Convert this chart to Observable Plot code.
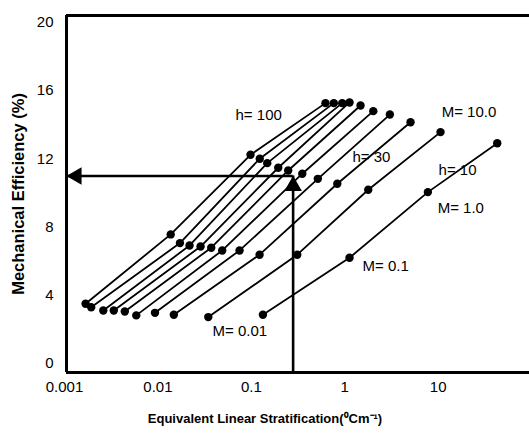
<!DOCTYPE html>
<html><head><meta charset="utf-8">
<script src="https://cdn.jsdelivr.net/npm/d3@7"></script>
<script src="https://cdn.jsdelivr.net/npm/@observablehq/plot@0.6"></script>
<style>body{margin:0;background:#fff} svg{display:block}</style>
</head><body><div id="chart"></div>
<script>
// Ten curves, each with four points (low, mid, upper, top)
const curveIds = [1, 2, 3, 4, 5, 6, 7, 8, 9, 10];
const lowX = [0.00168, 0.00193, 0.0026, 0.00337, 0.00442, 0.00586, 0.0093, 0.0148, 0.0346, 0.133];
const lowY = [3.5, 3.3, 3.11, 3.11, 3.05, 2.82, 2.97, 2.86, 2.72, 2.86];
const midX = [0.0137, 0.0172, 0.0218, 0.0286, 0.0372, 0.0488, 0.0748, 0.1225, 0.31, 1.125];
const midY = [7.57, 7.06, 6.92, 6.86, 6.79, 6.63, 6.63, 6.38, 6.38, 6.2];
const upX = [0.098, 0.123, 0.148, 0.194, 0.248, 0.351, 0.515, 0.832, 1.785, 7.76];
const upY = [12.24, 12.01, 11.75, 11.48, 11.32, 11.13, 10.83, 10.54, 10.19, 10.05];
const topX = [0.622, 0.764, 0.94, 1.125, 1.476, 2.02, 3.04, 5.06, 10.6, 42.9];
const topY = [15.27, 15.27, 15.27, 15.31, 15.13, 14.8, 14.6, 14.15, 13.57, 12.92];

const labelText = ["h= 100", "h= 30", "M= 10.0", "h= 10", "M= 1.0", "M= 0.1", "M= 0.01"];
const labelX = [0.0677, 1.21, 10.9, 10.1, 9.87, 1.55, 0.0384];
const labelY = [14.55, 12.08, 14.72, 11.32, 9.09, 5.69, 1.88];

const xTicks = [0.001, 0.01, 0.1, 1, 10];
const xTickLabels = ["0.001", "0.01", "0.1", "1", "10"];
const yTicks = [0, 4, 8, 12, 16, 20];
const xDomain = [0.00105, 95];
const yDomain = [-0.53, 20.41];

const readX = 0.28;   // stratification read-off
const readY = 11;     // efficiency read-off

const xTitle = "Equivalent Linear Stratification(⁰Cm⁻¹)";
const yTitle = "Mechanical Efficiency (%)";

const rows = [];
curveIds.forEach((c, i) => {
  rows.push({curve: c, x: lowX[i], y: lowY[i]});
  rows.push({curve: c, x: midX[i], y: midY[i]});
  rows.push({curve: c, x: upX[i], y: upY[i]});
  rows.push({curve: c, x: topX[i], y: topY[i]});
});
const labels = labelText.map((t, i) => ({t, x: labelX[i], y: labelY[i]}));

const chart = Plot.plot({
  width: 529, height: 436,
  marginLeft: 66, marginRight: 0, marginTop: 15, marginBottom: 64,
  style: {fontFamily: "'Liberation Sans', Arial, sans-serif", fontSize: "15px", background: "white", color: "black"},
  x: {type: "log", domain: xDomain, ticks: xTicks, tickFormat: d => xTickLabels[xTicks.indexOf(d)], tickSize: 0, tickPadding: 9, label: null},
  y: {domain: yDomain, ticks: yTicks, tickSize: 0, tickPadding: 13, label: null},
  marks: [
    Plot.ruleY([yDomain[0], yDomain[1]], {stroke: "black", strokeWidth: 3}),
    Plot.ruleX([xDomain[0]], {stroke: "black", strokeWidth: 3}),
    Plot.line(rows, {x: "x", y: "y", z: "curve", stroke: "black", strokeWidth: 1.8}),
    Plot.dot(rows, {x: "x", y: "y", r: 4.2, fill: "black"}),
    Plot.ruleX([readX], {y1: yDomain[0], y2: readY, stroke: "black", strokeWidth: 2.6}),
    Plot.ruleY([readY], {x1: xDomain[0], x2: readX, stroke: "black", strokeWidth: 2.6}),
    Plot.dot([{x: readX, y: readY}], {x: "x", y: "y", symbol: "triangle", r: 6.5, fill: "black", dy: 10}),
    Plot.dot([{x: xDomain[0], y: readY}], {x: "x", y: "y", symbol: "triangle", r: 6.5, fill: "black", rotate: -90, dx: 10}),
    Plot.text(labels, {x: "x", y: "y", text: "t", textAnchor: "start", fontSize: 15, fill: "black"}),
    Plot.text([xTitle], {frameAnchor: "bottom", textAnchor: "middle", lineAnchor: "middle", dy: 46, dx: -33, fontWeight: "bold", fontSize: 13, fill: "black"}),
    Plot.text([yTitle], {frameAnchor: "left", textAnchor: "middle", lineAnchor: "middle", dx: -48, rotate: -90, fontWeight: "bold", fontSize: 16.5, fill: "black"})
  ]
});
document.getElementById("chart").appendChild(chart);
</script>
</body></html>
